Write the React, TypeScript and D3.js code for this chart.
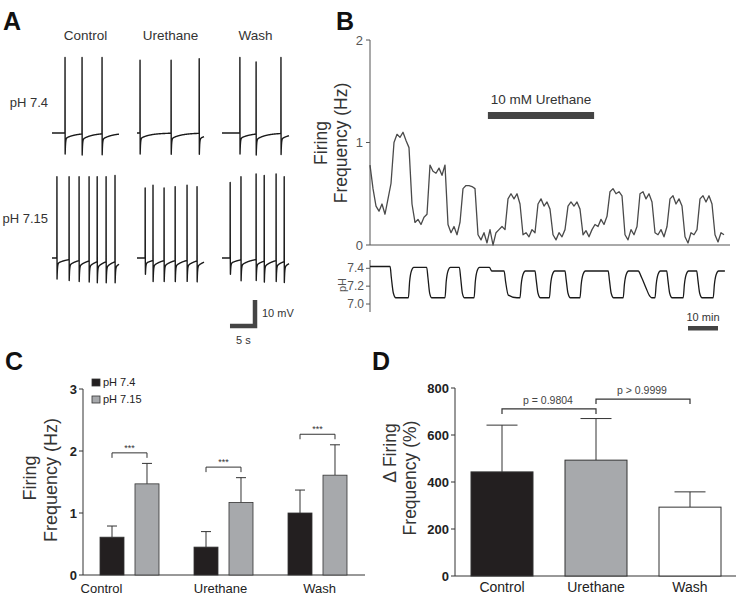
import React from 'react';
import * as d3 from 'd3';

const FONT = "'Liberation Sans', Arial, Helvetica, sans-serif";

// ---------- Panel A data ----------
const conditions = ['Control', 'Urethane', 'Wash'];
const phRowLabels = ['pH 7.4', 'pH 7.15'];
const spikeTimesRow1 = [[2.4, 5.55, 9.25], [0.55, 6.3, 11.5], [3.3, 6.3, 10.9]];
const spikePeaksRow1 = [[27, 27, 27], [26, 26, 26.5], [27, 25.4, 27]];
const spikeTimesRow2 = [
  [0.9, 3.15, 5.0, 6.85, 8.35, 10.0, 11.65],
  [1.5, 2.95, 5.0, 7.05, 9.25, 11.1],
  [1.5, 3.5, 6.3, 7.8, 10.0, 11.5],
];
const spikePeaksRow2 = [
  [29, 29, 29, 29, 29, 29, 29.5],
  [25, 26, 25, 25.5, 26, 25.5],
  [27, 29, 30, 29.5, 30, 29],
];
const traceDuration = 12.4; // s

// ---------- Panel B data ----------
const freqValues = [
  0.78, 0.55, 0.38, 0.33, 0.40, 0.30, 0.45, 0.60, 1.00, 1.08,
  1.05, 1.10, 1.02, 0.95, 0.40, 0.22, 0.25, 0.20, 0.27, 0.30,
  0.78, 0.72, 0.70, 0.75, 0.68, 0.78, 0.20, 0.12, 0.18, 0.10,
  0.22, 0.55, 0.58, 0.58, 0.57, 0.55, 0.10, 0.05, 0.12, 0.02,
  0.15, 0.00, 0.12, 0.15, 0.18, 0.15, 0.45, 0.50, 0.45, 0.50,
  0.40, 0.10, 0.12, 0.08, 0.15, 0.12, 0.40, 0.45, 0.38, 0.42,
  0.35, 0.10, 0.05, 0.12, 0.08, 0.15, 0.38, 0.42, 0.38, 0.42,
  0.35, 0.10, 0.14, 0.08, 0.15, 0.20, 0.18, 0.25, 0.20, 0.28,
  0.52, 0.55, 0.50, 0.52, 0.48, 0.10, 0.05, 0.15, 0.10, 0.18,
  0.50, 0.52, 0.45, 0.50, 0.42, 0.12, 0.10, 0.15, 0.08, 0.18,
  0.45, 0.48, 0.40, 0.45, 0.38, 0.08, 0.02, 0.12, 0.10, 0.15,
  0.45, 0.48, 0.42, 0.48, 0.40, 0.10, 0.03, 0.12, 0.10,
];
const freqTicks = [0, 1, 2];
const urethaneStart = 39.3; // min
const urethaneEnd = 74.7;
const phTrace: [number, number][] = [
  [0, 7.42], [6.7, 7.42], [7.1, 7.3], [7.8, 7.12], [8.6, 7.07], [12.8, 7.07], [13.2, 7.25], [13.8, 7.37], [14.6, 7.41],
  [18.9, 7.41], [19.3, 7.3], [19.9, 7.12], [20.6, 7.07], [25, 7.07], [25.4, 7.25], [26, 7.37], [26.8, 7.41],
  [29.8, 7.41], [30.2, 7.3], [30.8, 7.12], [31.5, 7.07], [34.7, 7.07], [35.1, 7.25], [35.7, 7.37], [36.5, 7.41],
  [39.8, 7.41], [40.6, 7.37], [44.7, 7.37], [45.2, 7.25], [46.1, 7.1], [49, 7.07], [50, 7.07], [50.4, 7.22], [51, 7.33], [51.8, 7.37],
  [55, 7.37], [55.4, 7.27], [56, 7.12], [56.8, 7.07], [59.8, 7.07], [60.2, 7.22], [60.8, 7.33], [61.6, 7.37],
  [65, 7.37], [65.4, 7.27], [66, 7.12], [66.8, 7.07], [70, 7.07], [70.4, 7.22], [71, 7.33], [71.8, 7.37],
  [79.4, 7.37], [79.8, 7.27], [80.4, 7.12], [81.2, 7.07], [84.4, 7.07], [84.8, 7.22], [85.4, 7.33], [86.2, 7.37],
  [89.4, 7.37], [90.5, 7.3], [92, 7.18], [93.2, 7.09], [93.9, 7.07], [95, 7.07], [95.4, 7.22], [96, 7.33], [96.8, 7.37],
  [98.9, 7.37], [99.3, 7.27], [99.9, 7.12], [100.7, 7.07], [104.4, 7.07], [104.8, 7.22], [105.4, 7.33], [106.2, 7.37],
  [108.9, 7.37], [109.3, 7.27], [109.9, 7.12], [110.7, 7.07], [114.4, 7.07], [114.8, 7.22], [115.4, 7.33], [116.2, 7.37],
  [118.3, 7.37],
];
const phTicks = [7.0, 7.2, 7.4];

// ---------- Panel C data ----------
const cCategories = ['Control', 'Urethane', 'Wash'];
const cSeries = ['pH 7.4', 'pH 7.15'];
const cMean74 = [0.61, 0.45, 1.0];
const cSem74 = [0.18, 0.25, 0.37];
const cMean715 = [1.47, 1.17, 1.61];
const cSem715 = [0.33, 0.40, 0.49];
const cSigY = [1.97, 1.74, 2.27];
const cTicks = [0, 1, 2, 3];

// ---------- Panel D data ----------
const dCategories = ['Control', 'Urethane', 'Wash'];
const dMean = [443, 493, 293];
const dSem = [199, 177, 65];
const dBracketY = [711, 753];
const dBracketLabels = ['p = 0.9804', 'p > 0.9999'];
const dTicks = [0, 200, 400, 600, 800];

function tracePoints(spikes: number[], peaks: number[]): [number, number][] {
  const base = (t: number) => {
    let v = 0;
    spikes.forEach((ts) => {
      const dt = t - ts - 0.035;
      if (dt >= 0) v += -5.5 * Math.exp(-dt / 0.07) - 2 * Math.exp(-dt / 1.8);
    });
    return v;
  };
  const pts: [number, number][] = [];
  spikes.forEach((s, i) => {
    pts.push([s, base(s)]);
    pts.push([s + 0.012, peaks[i]]);
    pts.push([s + 0.035, base(s + 0.035)]);
  });
  for (let i = 0; i * 0.04 <= traceDuration + 1e-9; i++) {
    const t = i * 0.04;
    if (spikes.some((s) => t >= s - 0.005 && t <= s + 0.04)) continue;
    pts.push([t, base(t)]);
  }
  pts.sort((a, b) => a[0] - b[0]);
  return pts;
}

const GRAY = '#444';

export default function App() {
  // ---------------- Panel A ----------------
  const colX0 = [52, 137, 222];
  const rowBase = [133, 258];
  const traceW = 67;
  const xA = (i: number) => d3.scaleLinear().domain([0, traceDuration]).range([colX0[i], colX0[i] + traceW]);
  const yA = (r: number) => d3.scaleLinear().domain([0, 10]).range([rowBase[r], rowBase[r] - 28]);
  const lineGen = d3.line<[number, number]>();

  const aTraces: JSX.Element[] = [];
  [spikeTimesRow1, spikeTimesRow2].forEach((row, r) => {
    const peaks = r === 0 ? spikePeaksRow1 : spikePeaksRow2;
    row.forEach((spk, c) => {
      const xs = xA(c);
      const ys = yA(r);
      const d = lineGen.x((p) => xs(p[0])).y((p) => ys(p[1]))(tracePoints(spk, peaks[c]));
      aTraces.push(<path key={`t${r}${c}`} d={d || ''} fill="none" stroke="#1a1a1a" strokeWidth={1.4} strokeLinejoin="round" />);
    });
  });
  const sbx = xA(0);
  const sby = yA(0);
  const sbRight = 257;
  const sbBottom = 328;
  const sbW = sbx(5) - sbx(0);
  const sbH = sby(0) - sby(10);

  // ---------------- Panel B ----------------
  const xB = d3.scaleLinear().domain([0, 120]).range([370, 730]);
  const yB = d3.scaleLinear().domain([0, 2]).range([245, 40]);
  const yPH = d3.scaleLinear().domain([7.0, 7.4]).range([304, 268.3]);
  const freqPath = d3
    .line<number>()
    .x((_, i) => xB(i))
    .y((v) => yB(v))(freqValues);
  const phPath = d3
    .line<[number, number]>()
    .x((p) => xB(p[0]))
    .y((p) => yPH(p[1]))
    .curve(d3.curveMonotoneX)(phTrace);

  // ---------------- Panel C ----------------
  const xC = d3.scalePoint<string>().domain(cCategories).range([82.5, 364.5]).padding(0.5);
  const xCin = d3.scaleBand<string>().domain(cSeries).range([-29.5, 29.5]).paddingInner(0.314);
  const yC = d3.scaleLinear().domain([0, 3]).range([575, 389]);
  const cColors = ['#231f20', '#a7a9ac'];
  const cLabelDx = [-28, -3, 2];

  // ---------------- Panel D ----------------
  const xD = d3.scalePoint<string>().domain(dCategories).range([455, 737]).padding(0.5);
  const yD = d3.scaleLinear().domain([0, 800]).range([576, 388]);
  const dFill = ['#231f20', '#a7a9ac', '#ffffff'];
  const dBarW = 62;

  return (
    <div style={{ position: 'absolute', left: 0, top: 0 }}>
      <svg width={738} height={596} style={{ display: 'block', background: '#fff', fontFamily: FONT }}>
        {/* ===== Panel A ===== */}
        <text x={3} y={30} fontSize={25} fontWeight="bold" fill="#111">A</text>
        {conditions.map((c, i) => (
          <text key={c} x={colX0[i] + traceW / 2} y={40} fontSize={13.5} textAnchor="middle" fill="#333">{c}</text>
        ))}
        <text x={48} y={107} fontSize={13} textAnchor="end" fill="#333">{phRowLabels[0]}</text>
        <text x={48} y={223} fontSize={13} textAnchor="end" fill="#333">{phRowLabels[1]}</text>
        {aTraces}
        {/* scale bar */}
        <path d={`M${sbRight - 2},${sbBottom - sbH} V${sbBottom - 2} H${sbRight - sbW}`} fill="none" stroke={GRAY} strokeWidth={4.5} />
        <text x={262} y={317} fontSize={11} fill="#333">10 mV</text>
        <text x={236} y={344} fontSize={11} fill="#333">5 s</text>

        {/* ===== Panel B ===== */}
        <text x={336} y={30} fontSize={25} fontWeight="bold" fill="#111">B</text>
        <g fill="#333" fontSize={17.5} textAnchor="middle">
          <text transform={`translate(327,143) rotate(-90)`}>Firing</text>
          <text transform={`translate(347,143) rotate(-90)`}>Frequency (Hz)</text>
        </g>
        <line x1={370} x2={370} y1={yB(2)} y2={yB(0)} stroke="#555" strokeWidth={1} />
        <line x1={370} x2={730} y1={yB(0)} y2={yB(0)} stroke="#555" strokeWidth={1} />
        {freqTicks.map((t) => (
          <g key={t}>
            <line x1={366} x2={370} y1={yB(t)} y2={yB(t)} stroke="#555" />
            <text x={363} y={yB(t) + 4.5} fontSize={13} textAnchor="end" fill="#555">{t}</text>
          </g>
        ))}
        <path d={freqPath || ''} fill="none" stroke="#4a4a4a" strokeWidth={1.3} strokeLinejoin="round" />
        <rect x={xB(urethaneStart)} y={112} width={xB(urethaneEnd) - xB(urethaneStart)} height={7} fill={GRAY} />
        <text x={(xB(urethaneStart) + xB(urethaneEnd)) / 2} y={104} fontSize={13.5} textAnchor="middle" fill="#333">10 mM Urethane</text>

        {/* pH trace */}
        <line x1={370} x2={370} y1={260} y2={312} stroke="#555" />
        {phTicks.map((t) => (
          <g key={t}>
            <line x1={366} x2={370} y1={yPH(t)} y2={yPH(t)} stroke="#555" />
            <text x={364} y={yPH(t) + 4} fontSize={12} textAnchor="end" fill="#555">{t.toFixed(1)}</text>
          </g>
        ))}
        <text transform={`translate(346,285) rotate(-90)`} fontSize={11} textAnchor="middle" fill="#555">pH</text>
        <path d={phPath || ''} fill="none" stroke="#1a1a1a" strokeWidth={1.3} />
        <rect x={xB(106)} y={326} width={xB(116) - xB(106)} height={4.5} fill={GRAY} />
        <text x={xB(111)} y={321} fontSize={11} textAnchor="middle" fill="#333">10 min</text>

        {/* ===== Panel C ===== */}
        <text x={5} y={370} fontSize={25} fontWeight="bold" fill="#111">C</text>
        <g fill="#333" fontSize={18} textAnchor="middle">
          <text transform={`translate(36,478) rotate(-90)`}>Firing</text>
          <text transform={`translate(57,480) rotate(-90)`}>Frequency (Hz)</text>
        </g>
        {/* legend */}
        {cSeries.map((s, i) => (
          <g key={s}>
            <rect x={92} y={379 + i * 17} width={8} height={7} fill={cColors[i]} stroke="#333" strokeWidth={0.8} />
            <text x={103} y={386 + i * 17} fontSize={11} fill="#222">{s}</text>
          </g>
        ))}
        <line x1={83} x2={83} y1={yC(3)} y2={yC(0)} stroke="#333" />
        <line x1={83} x2={365} y1={yC(0)} y2={yC(0)} stroke="#333" />
        {cTicks.map((t) => (
          <g key={t}>
            <line x1={79} x2={83} y1={yC(t)} y2={yC(t)} stroke="#333" />
            <text x={77} y={yC(t) + 5} fontSize={13} fontWeight="bold" textAnchor="end" fill="#222">{t}</text>
          </g>
        ))}
        {cCategories.map((cat, i) => {
          const cx = xC(cat)!;
          const vals = [cMean74[i], cMean715[i]];
          const sems = [cSem74[i], cSem715[i]];
          const centers = cSeries.map((s) => cx + xCin(s)! + xCin.bandwidth() / 2);
          return (
            <g key={cat}>
              {cSeries.map((s, j) => {
                const bx = cx + xCin(s)!;
                const bc = centers[j];
                const top = yC(vals[j]);
                const et = yC(vals[j] + sems[j]);
                return (
                  <g key={s}>
                    <line x1={bc} x2={bc} y1={top} y2={et} stroke="#333" />
                    <line x1={bc - 5} x2={bc + 5} y1={et} y2={et} stroke="#333" />
                    <rect x={bx} y={top} width={xCin.bandwidth()} height={yC(0) - top} fill={cColors[j]} stroke="#333" strokeWidth={0.8} />
                  </g>
                );
              })}
              <path d={`M${centers[0]},${yC(cSigY[i]) + 5} V${yC(cSigY[i])} H${centers[1]} V${yC(cSigY[i]) + 5}`} fill="none" stroke="#333" />
              <text x={(centers[0] + centers[1]) / 2} y={yC(cSigY[i]) - 2} fontSize={9} textAnchor="middle" fill="#333">***</text>
              <text x={cx + cLabelDx[i]} y={593} fontSize={13} textAnchor="middle" fill="#222">{cat}</text>
            </g>
          );
        })}

        {/* ===== Panel D ===== */}
        <text x={372} y={370} fontSize={25} fontWeight="bold" fill="#111">D</text>
        <g fill="#333" fontSize={17.5} textAnchor="middle">
          <text transform={`translate(396,453) rotate(-90)`}>Δ Firing</text>
          <text transform={`translate(416,478) rotate(-90)`}>Frequency (%)</text>
        </g>
        <line x1={455} x2={455} y1={yD(800)} y2={yD(0)} stroke="#333" />
        <line x1={455} x2={736} y1={yD(0)} y2={yD(0)} stroke="#333" />
        {dTicks.map((t) => (
          <g key={t}>
            <line x1={451} x2={455} y1={yD(t)} y2={yD(t)} stroke="#333" />
            <text x={449} y={yD(t) + 5} fontSize={13} fontWeight="bold" textAnchor="end" fill="#222">{t}</text>
          </g>
        ))}
        {dCategories.map((cat, i) => {
          const cx = xD(cat)!;
          const top = yD(dMean[i]);
          const et = yD(dMean[i] + dSem[i]);
          return (
            <g key={cat}>
              <line x1={cx} x2={cx} y1={top} y2={et} stroke="#333" />
              <line x1={cx - 15.5} x2={cx + 15.5} y1={et} y2={et} stroke="#333" />
              <rect x={cx - dBarW / 2} y={top} width={dBarW} height={yD(0) - top} fill={dFill[i]} stroke="#333" strokeWidth={1} />
              <text x={cx} y={592} fontSize={14} textAnchor="middle" fill="#222">{cat}</text>
            </g>
          );
        })}
        {dBracketY.map((by, k) => {
          const x1 = xD(dCategories[k])!;
          const x2 = xD(dCategories[k + 1])!;
          const y = yD(by);
          return (
            <g key={k}>
              <path d={`M${x1},${y + 5} V${y} H${x2} V${y + 5}`} fill="none" stroke="#333" strokeWidth={1.2} />
              <text x={(x1 + x2) / 2 - 1} y={y - 5} fontSize={10.5} textAnchor="middle" fill="#444">{dBracketLabels[k]}</text>
            </g>
          );
        })}
      </svg>
    </div>
  );
}
